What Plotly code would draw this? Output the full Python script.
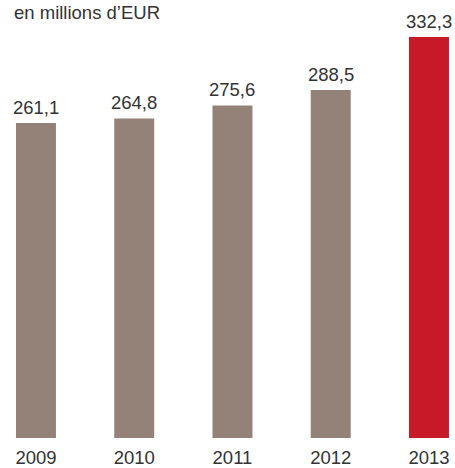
import plotly.graph_objects as go

years = ["2009", "2010", "2011", "2012", "2013"]
values = [261.1, 264.8, 275.6, 288.5, 332.3]
labels = ["261,1", "264,8", "275,6", "288,5", "332,3"]
colors = ["#948279", "#948279", "#948279", "#948279", "#c81927"]

W, H = 455, 468
PLOT_H = 438
xs = list(range(len(years)))
FONT = "Liberation Sans"
TXT = "#333333"

fig = go.Figure()
fig.add_trace(go.Bar(
    x=xs, y=values, width=0.407,
    marker=dict(color=colors, line=dict(width=0)),
    hoverinfo="skip",
))

for x, v, t in zip(xs, values, labels):
    fig.add_annotation(x=x, y=v, text=t, showarrow=False, yanchor="bottom",
                       yshift=3, font=dict(size=18.5, color=TXT, family=FONT))

fig.add_annotation(xref="paper", yref="paper", x=12 / W, y=1 - 0 / PLOT_H,
                   xanchor="left", yanchor="top", text="en millions d’EUR",
                   showarrow=False,
                   font=dict(size=18.5, color=TXT, family=FONT))

fig.update_layout(
    width=W, height=H,
    margin=dict(l=0, r=0, t=0, b=H - PLOT_H, pad=0),
    paper_bgcolor="white", plot_bgcolor="white",
    showlegend=False,
    xaxis=dict(range=[-0.366, 4.265], tickmode="array", tickvals=xs,
               ticktext=years, showgrid=False, zeroline=False, showline=False,
               ticks="", ticklabelstandoff=6,
               tickfont=dict(size=18.5, color=TXT, family=FONT)),
    yaxis=dict(range=[0, 363], visible=False, showgrid=False),
    font=dict(family=FONT),
)

fig.write_html(
    "out.html",
    config={"displayModeBar": False},
    post_script="document.body.style.margin='0';"
                "document.body.style.overflow='hidden';",
)
